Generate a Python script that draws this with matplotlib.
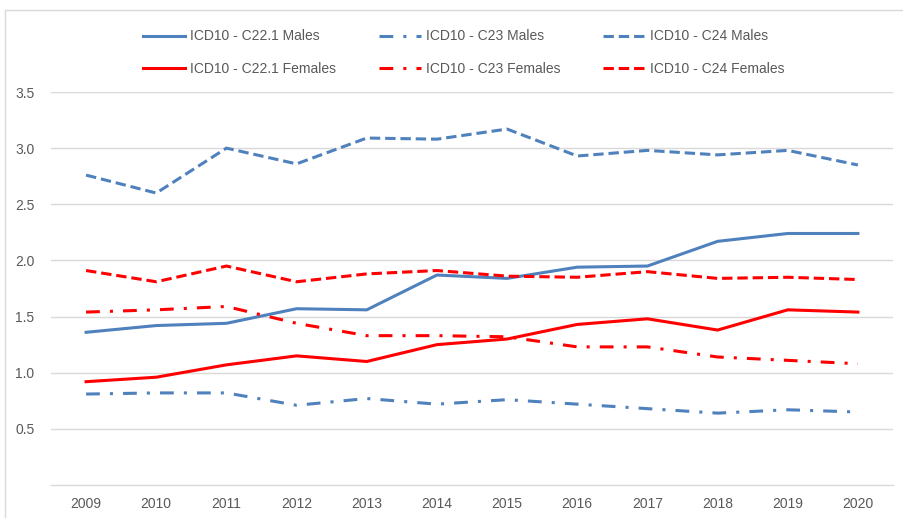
import matplotlib.pyplot as plt
from matplotlib.patches import Rectangle

years = ['2009', '2010', '2011', '2012', '2013', '2014',
         '2015', '2016', '2017', '2018', '2019', '2020']

c221_males = [1.36, 1.42, 1.44, 1.57, 1.56, 1.87, 1.84, 1.94, 1.95, 2.17, 2.24, 2.24]
c23_males = [0.81, 0.82, 0.82, 0.71, 0.77, 0.72, 0.76, 0.72, 0.68, 0.64, 0.67, 0.65]
c24_males = [2.76, 2.60, 3.00, 2.86, 3.09, 3.08, 3.17, 2.93, 2.98, 2.94, 2.98, 2.85]
c221_females = [0.92, 0.96, 1.07, 1.15, 1.10, 1.25, 1.30, 1.43, 1.48, 1.38, 1.56, 1.54]
c23_females = [1.54, 1.56, 1.59, 1.44, 1.33, 1.33, 1.32, 1.23, 1.23, 1.14, 1.11, 1.08]
c24_females = [1.91, 1.81, 1.95, 1.81, 1.88, 1.91, 1.86, 1.85, 1.90, 1.84, 1.85, 1.83]

yticks = [0.5, 1.0, 1.5, 2.0, 2.5, 3.0, 3.5]

blue = '#4F81BD'
red = '#FF0000'
dashdot = (0, (4.5, 3.3, 1, 3.3))
dash = (0, (3.4, 1.6))

plt.rcParams['font.family'] = 'Liberation Sans'

fig = plt.figure(figsize=(9.04, 5.18), dpi=100)
ax = fig.add_axes([51/904, 33/518, 842/904, 393/518])

x = range(len(years))
lw = 2.2
l1, = ax.plot(x, c221_males, color=blue, lw=lw, label='ICD10 - C22.1 Males')
l2, = ax.plot(x, c23_males, color=blue, lw=lw, ls=dashdot, label='ICD10 - C23 Males')
l3, = ax.plot(x, c24_males, color=blue, lw=lw, ls=dash, label='ICD10 - C24 Males')
l4, = ax.plot(x, c221_females, color=red, lw=lw, label='ICD10 - C22.1 Females')
l5, = ax.plot(x, c23_females, color=red, lw=lw, ls=dashdot, label='ICD10 - C23 Females')
l6, = ax.plot(x, c24_females, color=red, lw=lw, ls=dash, label='ICD10 - C24 Females')

ax.set_xlim(-0.5, len(years) - 0.5)
ax.set_ylim(0, 3.5)
ax.set_xticks(list(x))
ax.set_xticklabels(years)
ax.set_yticks(yticks)
ax.set_yticklabels(['%.1f' % v for v in yticks])
ax.grid(axis='y', color='#D9D9D9', lw=1)
ax.set_axisbelow(True)
for s in ['top', 'right', 'left']:
    ax.spines[s].set_visible(False)
ax.spines['bottom'].set_color('#D9D9D9')
ax.spines['bottom'].set_linewidth(1)
ax.tick_params(length=0, labelsize=10, colors='#595959')
ax.tick_params(axis='x', pad=9)
ax.tick_params(axis='y', pad=12)

handles = [l1, l4, l2, l5, l3, l6]
leg = fig.legend(handles=handles, labels=[h.get_label() for h in handles],
                 ncol=3, loc='center', bbox_to_anchor=(0.513, 0.898),
                 frameon=False, fontsize=10, handlelength=3.0,
                 handletextpad=0.35, columnspacing=3.1, labelspacing=1.35)
for t in leg.get_texts():
    t.set_color('#595959')

fig.patches.append(Rectangle((5/904, -0.1), 1.2, 1.1 - 10/518,
                             transform=fig.transFigure, fill=False,
                             edgecolor='#D9D9D9', lw=1))

fig.savefig('out.png', dpi=100)
